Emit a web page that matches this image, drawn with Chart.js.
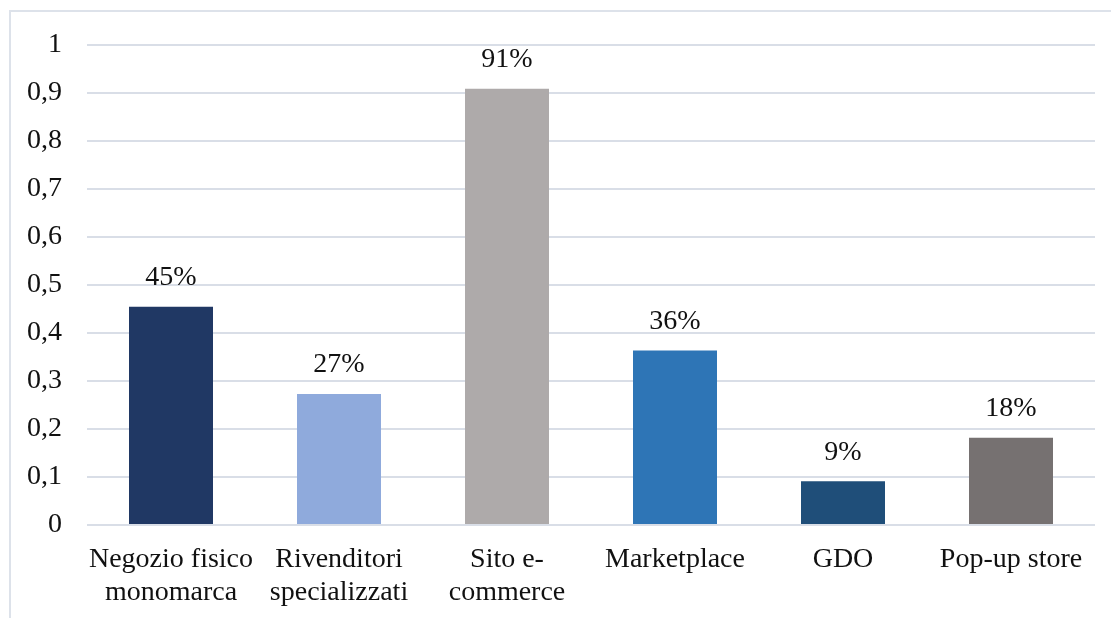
<!DOCTYPE html>
<html>
<head>
<meta charset="utf-8">
<script src="https://cdn.jsdelivr.net/npm/chart.js@4/dist/chart.umd.min.js"></script>
<style>
  html, body { margin: 0; padding: 0; background: #fff; overflow: hidden; }
  .frame {
    position: absolute; left: 9px; top: 10px; width: 1200px; height: 700px;
    border-left: 2px solid #dde2ea; border-top: 2px solid #dde2ea;
  }
  .wrap { position: absolute; left: 0; top: 0; width: 1111px; height: 618px; }
</style>
</head>
<body>
<div class="frame"></div>
<div class="wrap"><canvas id="canaliChart" width="1111" height="618"></canvas></div>
<script>
const categories = [
  ['Negozio fisico', 'monomarca'],
  ['Rivenditori', 'specializzati'],
  ['Sito e-', 'commerce'],
  'Marketplace',
  'GDO',
  'Pop-up store'
];
const shares = [0.4545, 0.2727, 0.9091, 0.3636, 0.0909, 0.1818];
const barColors = ['#203864', '#8faadc', '#aeaaaa', '#2e75b6', '#1f4e79', '#767171'];

const FONT = 'Liberation Serif, "Times New Roman", serif';

// percent labels above each bar
const valueLabels = {
  id: 'valueLabels',
  afterDatasetsDraw(chart) {
    const ctx = chart.ctx;
    const meta = chart.getDatasetMeta(0);
    ctx.save();
    ctx.font = '28px ' + FONT;
    ctx.fillStyle = '#111';
    ctx.textAlign = 'center';
    ctx.textBaseline = 'middle';
    meta.data.forEach((bar, i) => {
      ctx.fillText(Math.round(shares[i] * 100) + '%', bar.x, bar.y - 29);
    });
    ctx.restore();
  }
};

new Chart(document.getElementById('canaliChart'), {
  type: 'bar',
  data: {
    labels: categories,
    datasets: [{
      data: shares,
      backgroundColor: barColors,
      categoryPercentage: 1,
      barPercentage: 0.5,
    }]
  },
  plugins: [valueLabels],
  options: {
    responsive: false,
    animation: false,
    layout: { padding: { top: 45, right: 16, bottom: 0, left: 0 } },
    plugins: { legend: { display: false }, tooltip: { enabled: false } },
    scales: {
      x: {
        grid: { display: false, drawTicks: false },
        border: { display: false },
        ticks: {
          color: '#111',
          font: { family: FONT, size: 28, lineHeight: 1.18 },
          padding: 18,
          maxRotation: 0,
          autoSkip: false,
        },
        afterFit: s => { s.height = 93; }
      },
      y: {
        min: 0, max: 1,
        grid: { color: '#d9dee7', lineWidth: 2, drawTicks: false },
        border: { display: false },
        ticks: {
          stepSize: 0.1,
          color: '#111',
          padding: 25,
          font: { family: FONT, size: 28 },
          callback: v => String(Math.round(v * 10) / 10).replace('.', ',')
        },
        afterFit: s => { s.width = 87; }
      }
    }
  }
});
</script>
</body>
</html>
